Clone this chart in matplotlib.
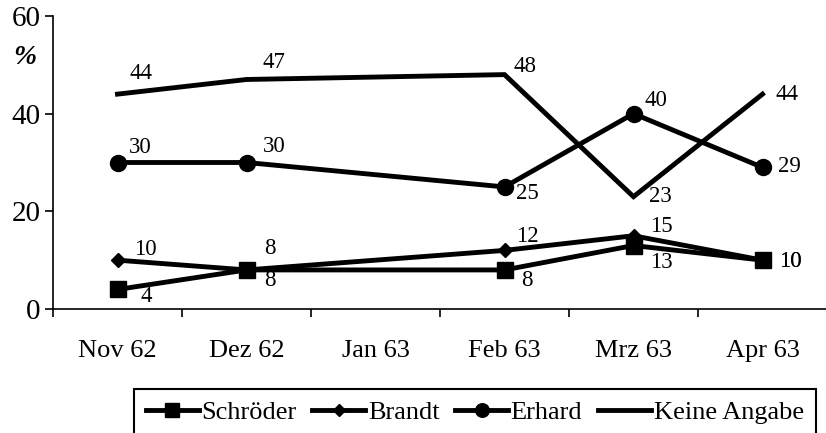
import matplotlib
matplotlib.use("Agg")
import matplotlib.pyplot as plt
import numpy as np

plt.rcParams["font.family"] = ["Liberation Serif", "DejaVu Serif"]

# Umfragewerte (Prozent) je Monat
months = ["Nov 62", "Dez 62", "Jan 63", "Feb 63", "Mrz 63", "Apr 63"]
month_idx = [0, 1, 3, 4, 5]          # Jan 63 ohne Erhebung
schroeder = [4, 8, 8, 13, 10]
brandt = [10, 8, 12, 15, 10]
erhard = [30, 30, 25, 40, 29]
keine_angabe = [44, 47, 48, 23, 44]

# Versatz der Wertebeschriftungen in Pixeln (dx, dy)
off_schroeder = [(29, -7), (23, -11), (22, -11), (28, -17), (28, -1)]
off_brandt = [(28, 11), (23, 21), (23, 14), (28, 9), (28, -1)]
off_erhard = [(23, 15), (28, 16), (23, -7), (22, 13), (27, 1)]
off_keine = [(24, 21), (27, 17), (20, 8), (27, 0), (25, 0)]

W, H = 826, 433
fig = plt.figure(figsize=(W / 100, H / 100), dpi=100)
ax = fig.add_axes([53 / W, 1 - 309 / H, 774 / W, 293 / H])

lw = 3.5
series = [
    ("Schröder", schroeder, dict(marker="s", markersize=12), off_schroeder),
    ("Brandt", brandt, dict(marker="D", markersize=7.5), off_brandt),
    ("Erhard", erhard, dict(marker="o", markersize=11.5), off_erhard),
    ("Keine Angabe", keine_angabe, dict(marker=None), off_keine),
]

for name, vals, mk, offs in series:
    ax.plot(month_idx, vals, color="black", linewidth=lw, label=name,
            solid_joinstyle="miter", **mk)
    for x, v, (dx, dy) in zip(month_idx, vals, offs):
        ax.annotate(str(v), xy=(x, v), xytext=(dx, dy), textcoords="offset pixels",
                    ha="center", va="center", fontsize=16.5)

ax.set_xlim(-0.5, 5.5)
ax.set_ylim(0, 60)
ax.set_yticks([0, 20, 40, 60])
ax.set_xticks(range(len(months)))
ax.set_xticklabels(months)
ax.set_xticks(np.arange(-0.5, 5.0, 1.0), minor=True)
ax.tick_params(axis="x", which="major", length=0, pad=22, labelsize=19)
ax.tick_params(axis="x", which="minor", length=6, width=1.2, direction="out")
ax.tick_params(axis="y", length=6, width=1.2, direction="out", pad=3, labelsize=21)

for s in ["top", "right"]:
    ax.spines[s].set_visible(False)
for s in ["left", "bottom"]:
    ax.spines[s].set_linewidth(1.2)

fig.text(25 / W, 1 - 58 / H, "%", fontsize=20, fontstyle="italic", fontweight="bold",
         ha="center", va="center")

leg = fig.legend(loc="upper left", bbox_to_anchor=(134 / W, 1 - 389 / H), ncol=4,
                 fontsize=19, frameon=True, fancybox=False, edgecolor="black",
                 framealpha=1, handlelength=2.0, handletextpad=0.1,
                 columnspacing=0.6, borderpad=0.45, borderaxespad=0,
                 markerscale=0.85)
leg.get_frame().set_linewidth(1.5)

fig.savefig("out.png", dpi=100)
